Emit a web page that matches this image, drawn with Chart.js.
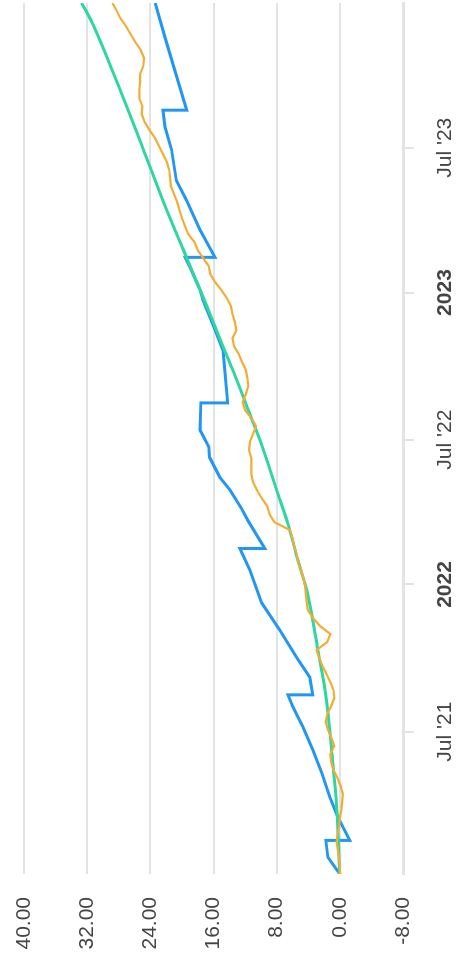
<!DOCTYPE html>
<html><head><meta charset="utf-8">
<script src="https://cdn.jsdelivr.net/npm/chart.js@4.4.1/dist/chart.umd.min.js"></script>
<style>
html,body{margin:0;padding:0;background:#fff;overflow:hidden;width:456px;height:967px;}
#wrap{position:absolute;left:0;top:0;width:967px;height:456px;transform-origin:0 0;transform:translateY(967px) rotate(-90deg);}
canvas{display:block;}
</style></head><body>
<div id="wrap"><canvas id="c" width="967" height="456"></canvas></div>
<script>
const orangeDates = ['2021-01-04','2021-01-14','2021-01-24','2021-02-03','2021-02-13','2021-02-23','2021-03-05','2021-03-15','2021-03-25','2021-04-04',
'2021-04-14','2021-04-24','2021-05-04','2021-05-14','2021-05-24','2021-06-03','2021-06-13','2021-06-23','2021-07-03','2021-07-13',
'2021-07-23','2021-08-02','2021-08-12','2021-08-22','2021-09-01','2021-09-11','2021-09-21','2021-10-01','2021-10-11','2021-10-21',
'2021-10-31','2021-11-10','2021-11-20','2021-11-30','2021-12-10','2021-12-20','2021-12-30','2022-01-09','2022-01-19','2022-01-29',
'2022-02-08','2022-02-18','2022-02-28','2022-03-10','2022-03-20','2022-03-30','2022-04-09','2022-04-19','2022-04-29','2022-05-09',
'2022-05-19','2022-05-29','2022-06-08','2022-06-18','2022-06-28','2022-07-08','2022-07-18','2022-07-28','2022-08-07','2022-08-17',
'2022-08-27','2022-09-06','2022-09-16','2022-09-26','2022-10-06','2022-10-16','2022-10-26','2022-11-05','2022-11-15','2022-11-25',
'2022-12-05','2022-12-15','2022-12-25','2023-01-04','2023-01-14','2023-01-24','2023-02-03','2023-02-13','2023-02-23','2023-03-05',
'2023-03-15','2023-03-25','2023-04-04','2023-04-14','2023-04-24','2023-05-04','2023-05-14','2023-05-24','2023-06-03','2023-06-13',
'2023-06-23','2023-07-03','2023-07-13','2023-07-23','2023-08-02','2023-08-12','2023-08-22','2023-09-01','2023-09-11','2023-09-21',
'2023-10-01','2023-10-11','2023-10-21','2023-10-31','2023-11-10','2023-11-20','2023-11-30','2023-12-10','2023-12-20','2023-12-29'];
const orangeValues = [0, 0, 0.1, 0.25, 0.4, 0.3, 0.1, 0, -0.2, -0.3,
 -0.38, -0.1, 0.3, 0.8, 1.1, 1.2, 0.7, 1.05, 1.5, 1.8,
 1.6, 1.1, 0.7, 0.8, 1.2, 1.7, 2.2, 2.6, 2.95, 1.6,
 1.2, 2.5, 3.4, 4.05, 4.2, 4.3, 4.4, 4.6, 4.9, 5.3,
 5.45, 5.8, 6.0, 6.3, 8.3, 8.9, 9.2, 9.9, 10.5, 11.0,
 11.2, 11.2, 11.2, 11.5, 11.4, 11.0, 10.6, 11.2, 12.0, 12.3,
 11.9, 11.6, 11.7, 11.9, 12.4, 12.8, 13.4, 13.6, 13.1, 13.3,
 13.6, 13.8, 14.3, 15.0, 15.8, 16.4, 16.6, 17.3, 18.0, 18.4,
 19.2, 19.6, 20.0, 20.3, 20.6, 21.0, 21.4, 21.5, 21.6, 21.9,
 22.4, 22.9, 23.4, 24.1, 24.7, 25.1, 25.0, 25.4, 25.4, 25.3,
 25.3, 24.9, 24.8, 25.2, 25.9, 26.5, 27.1, 27.8, 28.3, 28.8];

const blueDates = ['2021-01-04','2021-01-25','2021-02-15','2021-02-15','2021-03-16','2021-04-10','2021-05-10','2021-06-08','2021-07-07','2021-08-01',
'2021-08-16','2021-08-16','2021-09-07','2021-10-02','2021-11-05','2021-12-09','2022-01-19','2022-02-15','2022-02-15','2022-03-22',
'2022-04-06','2022-04-29','2022-05-15','2022-06-09','2022-06-22','2022-07-13','2022-08-16','2022-08-16','2022-09-30','2022-10-21',
'2022-11-15','2022-12-22','2023-01-04','2023-02-02','2023-02-14','2023-02-14','2023-03-20','2023-04-26','2023-05-21','2023-06-28',
'2023-07-27','2023-08-17','2023-08-17','2023-10-06','2023-11-16','2023-12-29'];
const blueValues = [0, 1.52, 1.77, -1.27, 0.25, 1.27, 2.28, 3.42, 4.68, 5.95,
 6.58, 3.42, 3.8, 5.48, 7.6, 9.9, 11.4, 12.66, 9.5, 11.65,
 12.45, 13.9, 15.2, 16.5, 16.6, 17.7, 17.6, 14.2, 14.6, 14.8,
 15.8, 17.3, 17.7, 19.0, 19.6, 15.8, 17.7, 19.4, 20.7, 21.3,
 22.15, 22.4, 19.4, 20.9, 22.15, 23.4];

const greenDates = ['2021-01-04','2021-04-06','2021-06-08','2021-08-09','2021-10-11','2021-12-25','2022-01-31','2022-03-18','2022-04-29','2022-06-22',
'2022-08-07','2022-09-22','2022-11-02','2022-12-26','2023-02-23','2023-04-26','2023-07-02','2023-09-23','2023-12-07','2023-12-29'];
const greenValues = [0, 0.44, 1.05, 1.68, 2.78, 4.2, 5.3, 6.58, 8.0, 9.8,
 11.6, 13.4, 15.1, 17.3, 19.8, 22.4, 25.0, 28.3, 31.5, 32.7];

const xTickDates = ['2021-07-01','2022-01-01','2022-07-01','2023-01-01','2023-07-01'];
const xTickLabels = ["Jul '21", '2022', "Jul '22", '2023', "Jul '23"];
const xTickMajor = [false, true, false, true, false];
const yTickValues = [-8, 0, 8, 16, 24, 32, 40];
const xRange = ['2021-01-04', '2023-12-29'];

const ts = d => Date.parse(d + 'T00:00:00Z');
const pts = (ds, vs) => ds.map((d, i) => ({x: ts(d), y: vs[i]}));
const FAMILY = "'Liberation Sans', Arial, Helvetica, sans-serif";
const GRID = '#e3e3e3';

new Chart(document.getElementById('c'), {
  type: 'line',
  data: {
    datasets: [
      {data: pts(orangeDates, orangeValues), borderColor: '#f4ad33', borderWidth: 2.2, pointRadius: 0, tension: 0, fill: false},
      {data: pts(greenDates, greenValues), borderColor: '#2fd69e', borderWidth: 3, pointRadius: 0, cubicInterpolationMode: 'monotone', fill: false},
      {data: pts(blueDates, blueValues), borderColor: '#2196f3', borderWidth: 3, pointRadius: 0, tension: 0, fill: false}
    ]
  },
  options: {
    responsive: false,
    animation: false,
    devicePixelRatio: 1,
    layout: {padding: {top: 24, right: 3, left: 0, bottom: 0}},
    plugins: {legend: {display: false}, tooltip: {enabled: false}},
    scales: {
      x: {
        type: 'linear',
        min: ts(xRange[0]), max: ts(xRange[1]),
        afterBuildTicks: s => { s.ticks = xTickDates.map((d, i) => ({value: ts(d), major: xTickMajor[i]})); },
        afterFit: s => { s.height = 53; s.paddingLeft = 0; s.paddingRight = 0; },
        ticks: {
          autoSkip: false, maxRotation: 0, minRotation: 0, padding: 19, color: '#444',
          font: ctx => ({family: FAMILY, size: 21, weight: (ctx.tick && ctx.tick.major) ? 'bold' : 'normal'}),
          callback: (v, i) => xTickLabels[i]
        },
        grid: {drawOnChartArea: false, drawTicks: true, tickLength: 11, color: GRID, lineWidth: 2},
        border: {display: true, color: GRID, width: 3}
      },
      y: {
        min: yTickValues[0], max: yTickValues[yTickValues.length - 1],
        afterBuildTicks: s => { s.ticks = yTickValues.map(v => ({value: v})); },
        afterFit: s => { s.width = 93; s.paddingTop = 0; s.paddingBottom = 0; },
        ticks: {padding: 23, color: '#444', font: {family: FAMILY, size: 21}, callback: v => Number(v).toFixed(2)},
        grid: {drawTicks: false, color: GRID, lineWidth: 2},
        border: {display: false}
      }
    }
  }
});
</script>
</body></html>
